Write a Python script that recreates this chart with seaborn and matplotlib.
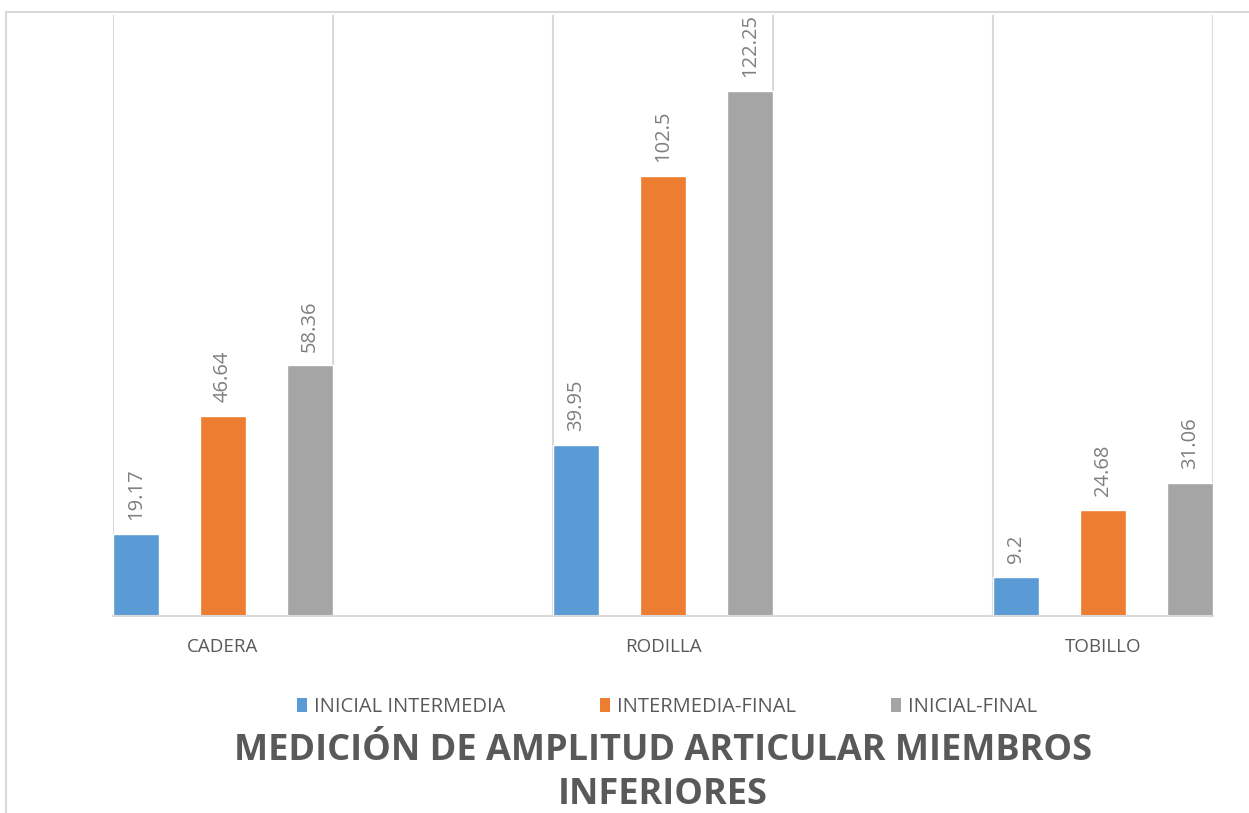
import matplotlib
matplotlib.use("Agg")
import matplotlib.pyplot as plt
import seaborn as sns
import pandas as pd
from matplotlib.patches import Patch
from matplotlib.lines import Line2D

categories = ["CADERA", "RODILLA", "TOBILLO"]
series = ["INICIAL INTERMEDIA", "INTERMEDIA-FINAL", "INICIAL-FINAL"]
inicial_intermedia = [19.17, 39.95, 9.2]
intermedia_final = [46.64, 102.5, 24.68]
inicial_final = [58.36, 122.25, 31.06]
value_labels = [["19.17", "39.95", "9.2"], ["46.64", "102.5", "24.68"], ["58.36", "122.25", "31.06"]]
colors = ["#5B9BD5", "#ED7D31", "#A5A5A5"]
title = "MEDICIÓN DE AMPLITUD ARTICULAR MIEMBROS\nINFERIORES"

rows = []
for s, vals in zip(series, [inicial_intermedia, intermedia_final, inicial_final]):
    for c, v in zip(categories, vals):
        rows.append({"cat": c, "serie": s, "val": v})
df = pd.DataFrame(rows)

sns.set_style("white")
plt.rcParams["font.family"] = ["Open Sans", "DejaVu Sans"]

fig = plt.figure(figsize=(12.49, 8.13), dpi=100)
ax = fig.add_axes([113 / 1249, 197 / 813, 1100 / 1249, 601 / 813])

sns.barplot(data=df, x="cat", y="val", hue="serie", order=categories, hue_order=series,
            palette=colors, width=0.594, gap=0.47, saturation=1, ax=ax, legend=False,
            errorbar=None)

for cont, labs in zip(ax.containers, value_labels):
    ax.bar_label(cont, labels=labs, rotation=90, padding=10, color="#7F7F7F", fontsize=14.5)

ax.set_xlim(-0.25, 2.25)
ax.set_ylim(0, 140)
ax.set_yticks([])
ax.set_xticks([-0.25, 0.25, 0.75, 1.25, 1.75, 2.25], minor=True)
ax.grid(which="minor", axis="x", color="#D9D9D9", linewidth=1.5)
ax.set_axisbelow(True)
ax.tick_params(axis="x", which="both", length=0, pad=16, labelsize=13.5, labelcolor="#595959")
ax.set_xlabel("")
ax.set_ylabel("")
for side in ["left", "right", "top"]:
    ax.spines[side].set_visible(False)
ax.spines["bottom"].set_color("#D9D9D9")
ax.spines["bottom"].set_linewidth(1.5)

handles = [Patch(facecolor=c, edgecolor="none") for c in colors]
fig.legend(handles, series, loc="center", bbox_to_anchor=(667 / 1249, 1 - 707 / 813), ncol=3,
           frameon=False, fontsize=14.5, labelcolor="#595959", handlelength=0.5, handleheight=0.75,
           handletextpad=0.35, columnspacing=4.7)

fig.text(663 / 1249, 1 - 773 / 813, title, ha="center", va="center", fontsize=26,
         fontweight="bold", color="#595959", linespacing=1.3)

fig.add_artist(Line2D([6 / 1249, 1], [1 - 12 / 813, 1 - 12 / 813], color="#D9D9D9", linewidth=1.5,
                      transform=fig.transFigure))
fig.add_artist(Line2D([6 / 1249, 6 / 1249], [0, 1 - 12 / 813], color="#D9D9D9", linewidth=1.5,
                      transform=fig.transFigure))

fig.savefig("out.png", dpi=100)
